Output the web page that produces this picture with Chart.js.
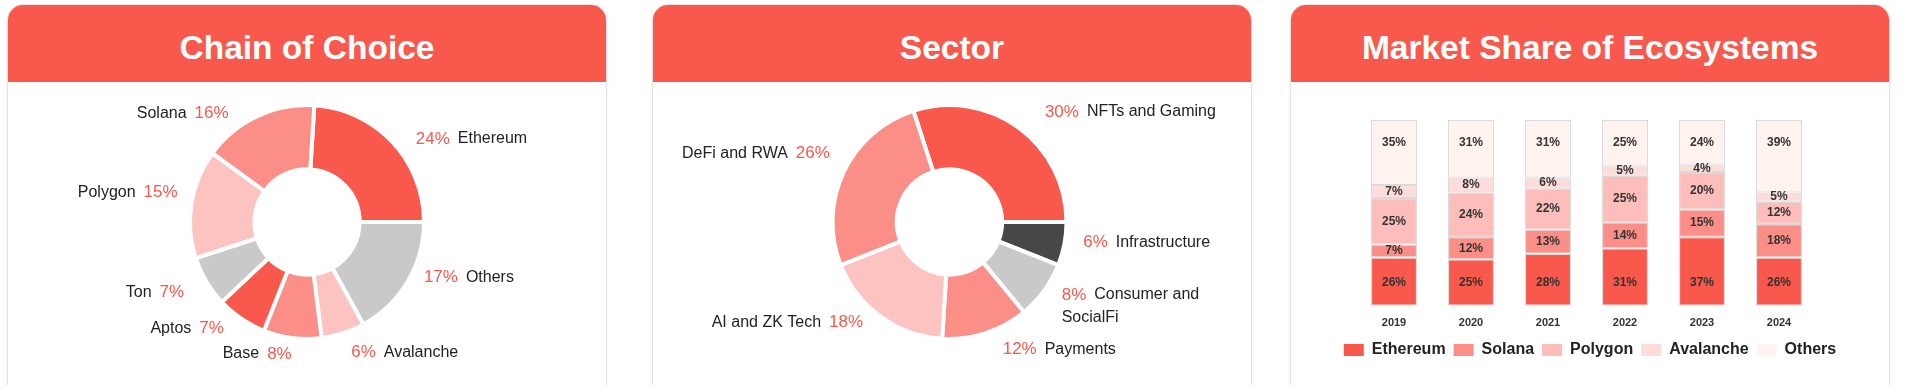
<!DOCTYPE html>
<html>
<head>
<meta charset="utf-8">
<script src="https://cdn.jsdelivr.net/npm/chart.js@4.4.1/dist/chart.umd.min.js"></script>
<style>
  body { margin: 0; background: #fff; width: 1906px; height: 385px; overflow: hidden; font-family: "Liberation Sans", Arial, Helvetica, sans-serif; }
  .panel { position: absolute; top: 4px; width: 600px; height: 420px; box-sizing: border-box; border: 1px solid #e3e3e3; border-radius: 16px; overflow: hidden; background: #fff; box-shadow: 0 1px 4px rgba(0,0,0,0.06); }
  .head { height: 77px; background: #F9584C; color: #fff; font-weight: bold; font-size: 33.5px; display: flex; align-items: center; justify-content: center; padding-top: 8px; box-sizing: border-box; }
  .body { position: relative; width: 598px; height: 300px; }
</style>
</head>
<body>
<div class="panel" style="left:7px"><div class="head">Chain of Choice</div><div class="body"><canvas id="chain"></canvas></div></div>
<div class="panel" style="left:652px"><div class="head">Sector</div><div class="body"><canvas id="sector"></canvas></div></div>
<div class="panel" style="left:1290px"><div class="head">Market Share of Ecosystems</div><div class="body"><canvas id="share"></canvas></div></div>
<script>
// data
const chainLabels = ['Ethereum', 'Others', 'Avalanche', 'Base', 'Aptos', 'Ton', 'Polygon', 'Solana'];
const chainValues = [24, 17, 6, 8, 7, 7, 15, 16];

const sectorLabels = ['NFTs and Gaming', 'Infrastructure', 'Consumer and\nSocialFi', 'Payments', 'AI and ZK Tech', 'DeFi and RWA'];
const sectorValues = [30, 6, 8, 12, 18, 26];

const years = ['2019', '2020', '2021', '2022', '2023', '2024'];
const ethereumShare = [26, 25, 28, 31, 37, 26];
const solanaShare = [7, 12, 13, 14, 15, 18];
const polygonShare = [25, 24, 22, 25, 20, 12];
const avalancheShare = [7, 8, 6, 5, 4, 5];
const othersShare = [35, 31, 31, 25, 24, 39];

const RED = '#F9584C', SALMON = '#FB8F88', PINK = '#FDC3C0', GRAY = '#C9C9C9', DARK = '#474747';

Chart.defaults.font.family = '"Liberation Sans", Arial, Helvetica, sans-serif';
Chart.defaults.animation = false;

// labels outside the doughnut: "pct name" on the right, "name pct" on the left
const outLabels = {
  id: 'outLabels',
  afterDatasetsDraw(chart, args, opts) {
    const ctx = chart.ctx;
    const meta = chart.getDatasetMeta(0);
    const names = chart.data.labels;
    const vals = chart.data.datasets[0].data;
    const nameFont = '16px "Liberation Sans", Arial, sans-serif';
    const pctFont = '17px "Liberation Sans", Arial, sans-serif';
    ctx.save();
    ctx.textBaseline = 'middle';
    const space = 8, lh = 23;
    meta.data.forEach((arc, i) => {
      const p = arc.getProps(['x', 'y', 'startAngle', 'endAngle', 'outerRadius'], true);
      const mid = (p.startAngle + p.endAngle) / 2;
      const r = p.outerRadius + opts.distance;
      const right = Math.cos(mid) >= 0;
      const n = (opts.nudge && opts.nudge[i]) || [0, 0];
      const ax = p.x + Math.cos(mid) * r + (right ? opts.gap : -opts.gap) + n[0];
      const ay = p.y + Math.sin(mid) * r + n[1];
      const pct = vals[i] + '%';
      const lines = names[i].split('\n');
      const ly = ay - (lines.length - 1) * lh / 2;
      ctx.font = pctFont;
      const pw = ctx.measureText(pct).width;
      ctx.textAlign = right ? 'left' : 'right';
      ctx.fillStyle = RED;
      ctx.fillText(pct, ax, ly);
      ctx.font = nameFont;
      ctx.fillStyle = '#222';
      if (right) {
        ctx.fillText(lines[0], ax + pw + space, ly);
        for (let k = 1; k < lines.length; k++) ctx.fillText(lines[k], ax, ly + k * lh);
      } else {
        ctx.fillText(lines[0], ax - pw - space, ly);
        for (let k = 1; k < lines.length; k++) ctx.fillText(lines[k], ax - pw - space, ly + k * lh);
      }
    });
    ctx.restore();
  }
};

// percent text inside each stacked segment
const barLabels = {
  id: 'barLabels',
  afterDatasetsDraw(chart, args, opts) {
    const ctx = chart.ctx;
    ctx.save();
    ctx.font = 'bold 12px "Liberation Sans", Arial, sans-serif';
    ctx.fillStyle = '#333';
    ctx.textAlign = 'center';
    ctx.textBaseline = 'middle';
    chart.data.datasets.forEach((ds, di) => {
      chart.getDatasetMeta(di).data.forEach((bar, i) => {
        const p = bar.getProps(['x', 'y', 'base'], true);
        let ty = (p.y + p.base) / 2;
        if (ds.labelAnchor === 'bottom') ty = p.base - opts.inset;
        if (ds.labelAnchor === 'top') ty = p.y + opts.inset;
        ctx.fillText(ds.data[i] + '%', p.x, ty);
      });
    });
    ctx.restore();
  }
};

function donut(id, labels, values, colors, nudge, padRight) {
  const total = values.reduce((a, b) => a + b, 0);
  return new Chart(document.getElementById(id), {
    type: 'doughnut',
    data: {
      labels,
      datasets: [{ data: values, backgroundColor: colors, borderColor: '#fff', borderWidth: 4, hoverOffset: 0 }]
    },
    options: {
      responsive: true,
      maintainAspectRatio: false,
      radius: 117,
      cutout: '45%',
      rotation: 90 - values[0] / total * 360,
      layout: { padding: { right: padRight, bottom: 20 } },
      plugins: {
        legend: { display: false },
        tooltip: { enabled: false },
        outLabels: { distance: 13, gap: 10, nudge }
      }
    },
    plugins: [outLabels]
  });
}

donut('chain', chainLabels, chainValues,
  [RED, GRAY, PINK, SALMON, RED, GRAY, PINK, SALMON],
  [[4, 6], [-5, -11], [-6, 7], [11, 3], [0, -1], [-1, 4], [9, -9], [-13, 9]], 0);

donut('sector', sectorLabels, sectorValues,
  [RED, DARK, GRAY, SALMON, PINK, SALMON],
  [[9, -5], [-4, -4], [-3, 8], [3, 4], [0, -5], [8, -13]], 5);

const barStyle = { borderColor: '#DADADA', borderWidth: 1.2, borderSkipped: false, barPercentage: 0.6, categoryPercentage: 1 };

new Chart(document.getElementById('share'), {
  type: 'bar',
  data: {
    labels: years,
    datasets: [
      { label: 'Ethereum', data: ethereumShare, backgroundColor: RED, labelAnchor: 'bottom', ...barStyle },
      { label: 'Solana', data: solanaShare, backgroundColor: SALMON, ...barStyle },
      { label: 'Polygon', data: polygonShare, backgroundColor: '#FDBEBB', ...barStyle },
      { label: 'Avalanche', data: avalancheShare, backgroundColor: '#FEDCDA', ...barStyle },
      { label: 'Others', data: othersShare, backgroundColor: '#FFF3F0', labelAnchor: 'top', ...barStyle }
    ]
  },
  options: {
    responsive: true,
    maintainAspectRatio: false,
    layout: { padding: { top: 38, bottom: 14 } },
    scales: {
      x: {
        stacked: true,
        grid: { display: false, drawTicks: false },
        border: { display: false },
        ticks: { color: '#333', padding: 11, font: { size: 11, weight: 'bold' } },
        afterFit: s => { s.height -= 7; }
      },
      y: {
        stacked: true, min: 0, max: 100,
        grid: { display: false, drawTicks: false },
        border: { display: false },
        ticks: { display: false },
        afterFit: s => { s.width = 64.5; }
      },
      y2: {
        type: 'linear', position: 'right',
        grid: { display: false, drawTicks: false },
        border: { display: false },
        ticks: { display: false },
        afterFit: s => { s.width = 71.5; }
      }
    },
    plugins: {
      tooltip: { enabled: false },
      legend: {
        position: 'bottom',
        labels: {
          boxWidth: 20, boxHeight: 12, padding: 8, color: '#222',
          font: { size: 16, weight: 'bold' },
          generateLabels: chart => Chart.defaults.plugins.legend.labels.generateLabels(chart).map(l => ({ ...l, lineWidth: 0 }))
        }
      },
      barLabels: { inset: 23 }
    }
  },
  plugins: [barLabels]
});
</script>
</body>
</html>
